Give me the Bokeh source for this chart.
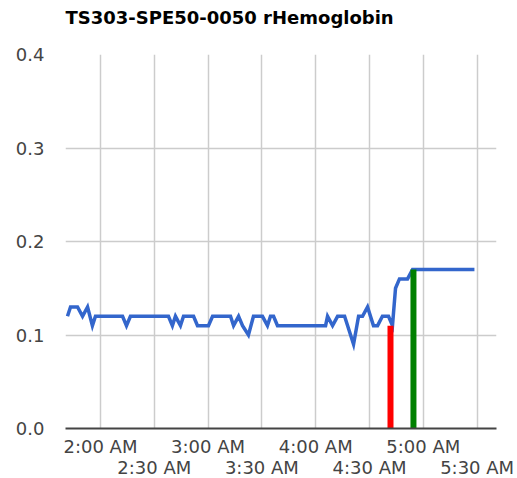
from bokeh.plotting import figure
from bokeh.models import FixedTicker, LinearAxis, Range1d, PrintfTickFormatter, Title
from bokeh.embed import file_html
from bokeh.resources import INLINE

# time in minutes after midnight, rHemoglobin value
minutes = [101.6, 103.3, 107.2, 110.0, 112.8, 115.5, 117.2, 132.3, 134.5, 136.7,
           157.9, 160.1, 161.8, 164.6, 166.3, 171.9, 174.1, 180.2, 182.5, 192.5,
           194.2, 197.0, 199.2, 202.5, 205.3, 210.3, 213.1, 214.8, 216.5, 218.7,
           245.5, 246.6, 249.4, 252.2, 256.1, 261.1, 263.9, 266.1, 268.9, 272.2,
           274.5, 277.2, 280.6, 282.8, 284.5, 286.7, 291.2, 294.0, 328.5]
values = [0.12, 0.13, 0.13, 0.12, 0.13, 0.11, 0.12, 0.12, 0.11, 0.12,
          0.12, 0.11, 0.12, 0.11, 0.12, 0.12, 0.11, 0.11, 0.12, 0.12,
          0.11, 0.12, 0.11, 0.10, 0.12, 0.12, 0.11, 0.12, 0.12, 0.11,
          0.11, 0.12, 0.11, 0.12, 0.12, 0.09, 0.12, 0.12, 0.13, 0.11,
          0.11, 0.12, 0.12, 0.11, 0.15, 0.16, 0.16, 0.17, 0.17]

red_marker_minute = [281.7]
red_marker_value = [0.11]
green_marker_minute = [294.5]
green_marker_value = [0.17]

hour_ticks = [120, 180, 240, 300]
hour_labels = ["2:00 AM", "3:00 AM", "4:00 AM", "5:00 AM"]
half_ticks = [150, 210, 270, 330]
half_labels = ["2:30 AM", "3:30 AM", "4:30 AM", "5:30 AM"]
y_ticks = [0.0, 0.1, 0.2, 0.3, 0.4]
title_text = "TS303-SPE50-0050 rHemoglobin"

FONT = "DejaVu Sans"
LABEL_COLOR = "#444444"
TICK_SIZE = "18px"

p = figure(frame_width=431, frame_height=374, output_backend="svg",
           toolbar_location=None, x_range=Range1d(100.5, 340.8),
           y_range=Range1d(0, 0.4), min_border_left=65, min_border_right=20,
           min_border_top=54, min_border_bottom=0, title=None)
p.outline_line_color = None
p.background_fill_color = "white"
p.border_fill_color = "white"

# spacer between the plot and the title, then the title itself
spacer = Title(text=" ", text_font_size="1px", standoff=24)
p.add_layout(spacer, "above")
main_title = Title(text=title_text, text_font=FONT, text_font_size="18px",
                   text_font_style="bold", text_color="black", align="left",
                   standoff=0)
p.add_layout(main_title, "above")

# grids
p.xgrid.ticker = FixedTicker(ticks=sorted(hour_ticks + half_ticks))
p.xgrid.grid_line_color = "#cccccc"
p.xgrid.grid_line_width = 1.5
p.ygrid.ticker = FixedTicker(ticks=y_ticks)
p.ygrid.grid_line_color = "#cccccc"
p.ygrid.grid_line_width = 1.5

# main x axis (hours)
xa = p.xaxis[0]
xa.ticker = FixedTicker(ticks=hour_ticks)
xa.major_label_overrides = {t: l for t, l in zip(hour_ticks, hour_labels)}
xa.major_tick_line_color = None
xa.minor_tick_line_color = None
xa.axis_line_color = "#444444"
xa.axis_line_width = 2
xa.major_label_standoff = 1
xa.axis_label_standoff = 0
xa.major_label_text_font = FONT
xa.major_label_text_font_size = TICK_SIZE
xa.major_label_text_color = LABEL_COLOR

# second x axis (half hours) stacked below
xa2 = LinearAxis(ticker=FixedTicker(ticks=half_ticks),
                 major_label_overrides={t: l for t, l in zip(half_ticks, half_labels)})
xa2.major_tick_line_color = None
xa2.minor_tick_line_color = None
xa2.axis_line_color = None
xa2.major_label_standoff = -9
xa2.axis_label_standoff = 0
xa2.major_label_text_font = FONT
xa2.major_label_text_font_size = TICK_SIZE
xa2.major_label_text_color = LABEL_COLOR
p.add_layout(xa2, "below")

ya = p.yaxis[0]
ya.ticker = FixedTicker(ticks=y_ticks)
ya.formatter = PrintfTickFormatter(format="%.1f")
ya.major_tick_line_color = None
ya.minor_tick_line_color = None
ya.axis_line_color = None
ya.major_label_standoff = 15
ya.major_label_text_font = FONT
ya.major_label_text_font_size = TICK_SIZE
ya.major_label_text_color = LABEL_COLOR

p.line(minutes, values, line_color="#3366CC", line_width=3.5, line_join="miter")
p.segment(x0=red_marker_minute, y0=[0] * len(red_marker_minute),
          x1=red_marker_minute, y1=red_marker_value,
          line_color="#FF0000", line_width=6)
p.segment(x0=green_marker_minute, y0=[0] * len(green_marker_minute),
          x1=green_marker_minute, y1=green_marker_value,
          line_color="#008000", line_width=6)

open("out.html", "w").write(file_html(p, INLINE))
